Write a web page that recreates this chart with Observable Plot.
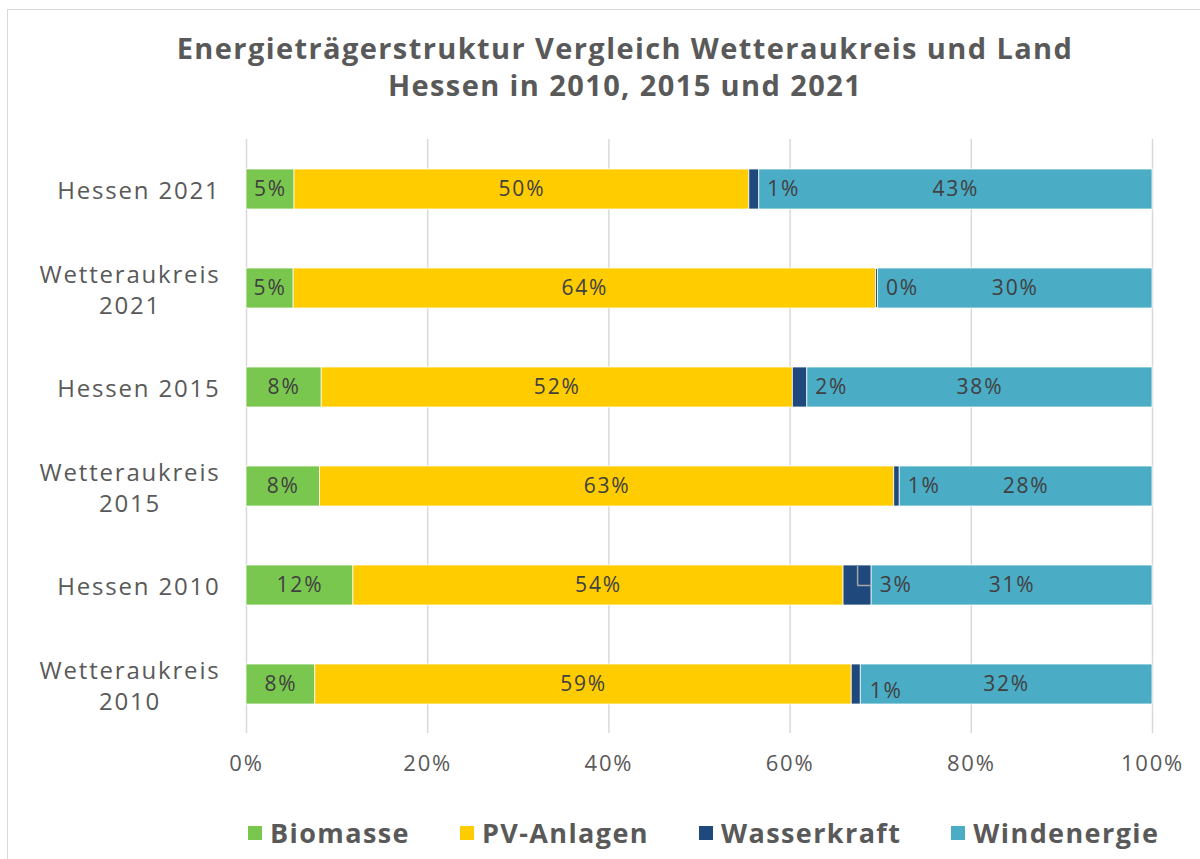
<!DOCTYPE html>
<html>
<head>
<meta charset="utf-8">
<script src="https://cdn.jsdelivr.net/npm/d3@7"></script>
<script src="https://cdn.jsdelivr.net/npm/@observablehq/plot@0.6"></script>
<style>
  html, body { margin: 0; padding: 0; background: #fff; overflow: hidden; width: 1200px; height: 859px; }
  #frame { position: absolute; left: 7px; top: 9px; width: 1300px; height: 1000px; border: 1px solid #d9d9d9; pointer-events: none; }
  #title { width: 1200px; height: 130px; box-sizing: border-box; padding: 29px 0 0 50px; text-align: center;
           font-family: "Open Sans", sans-serif; font-weight: 700; font-size: 29px; letter-spacing: 1.4px; line-height: 37px; color: #595959; }
  #chart { position: relative; }
  #chart svg text { letter-spacing: 1.8px; }
  #legend { display: flex; gap: 50px; margin-left: 248px; margin-top: 14px; align-items: center;
            font-family: "Open Sans", sans-serif; font-weight: 700; font-size: 27px; letter-spacing: 1.4px; color: #595959; }
  .item { display: flex; align-items: center; gap: 8px; }
  .sw { width: 14px; height: 14px; display: inline-block; }
</style>
</head>
<body>
<div id="frame"></div>
<div id="title">Energieträgerstruktur Vergleich Wetteraukreis und Land<br>Hessen in 2010, 2015 und 2021</div>
<div id="chart"></div>
<div id="legend"></div>
<script>
const categories = ["Hessen 2021", "Wetteraukreis\n2021", "Hessen 2015", "Wetteraukreis\n2015", "Hessen 2010", "Wetteraukreis\n2010"];
const sources = ["Biomasse", "PV-Anlagen", "Wasserkraft", "Windenergie"];
const colors = ["#7AC74F", "#FFCC00", "#1F497D", "#4BACC6"];
const biomasse = [5.3, 5.2, 8.3, 8.1, 11.8, 7.6];
const pv = [50.2, 64.3, 52.0, 63.4, 54.1, 59.2];
const wasser = [1.1, 0.2, 1.6, 0.6, 3.1, 1.0];
const wind = [43.4, 30.3, 38.1, 27.9, 31.0, 32.2];
const xTicks = [0, 20, 40, 60, 80, 100];

const series = [biomasse, pv, wasser, wind];
const table = [];
categories.forEach((cat, i) => {
  sources.forEach((src, j) => table.push({cat, source: src, value: series[j][i]}));
});

const leaderIdx = 4; // Hessen 2010 small segment with leader line
const leader = [{
  cat: categories[leaderIdx],
  xm: biomasse[leaderIdx] + pv[leaderIdx] + wasser[leaderIdx] / 2,
  xe: biomasse[leaderIdx] + pv[leaderIdx] + wasser[leaderIdx]
}];
const lowIdx = 5; // label placed slightly below

const fmt = v => Math.round(v) + "%";
const stackOpts = {x: "value", y: "cat", z: "source", order: null};

const plot = Plot.plot({
  width: 1200,
  height: 670,
  marginLeft: 246,
  marginRight: 48,
  marginTop: 9,
  marginBottom: 67,
  style: {fontFamily: "'Open Sans', sans-serif", fontSize: "22px", color: "#595959", background: "transparent"},
  x: {domain: [0, 100], ticks: xTicks, tickFormat: d => d + "%"},
  y: {domain: categories, paddingInner: 0.6, paddingOuter: 0.3},
  color: {domain: sources, range: colors},
  marks: [
    Plot.gridX(xTicks, {stroke: "#d9d9d9", strokeOpacity: 1, strokeWidth: 1.5}),
    Plot.barX(table, Plot.stackX({...stackOpts, fill: "source", stroke: "white", strokeWidth: 0.75})),
    Plot.text(table, Plot.stackX({...stackOpts,
      text: d => d.source === "Wasserkraft" ? null : fmt(d.value),
      fill: "#404040", fontSize: 21})),
    Plot.text(table, Plot.stackX2({...stackOpts,
      text: d => (d.source === "Wasserkraft" && d.cat !== categories[lowIdx]) ? fmt(d.value) : null,
      fill: "#404040", fontSize: 21, textAnchor: "start", dx: 8})),
    Plot.text(table, Plot.stackX2({...stackOpts,
      text: d => (d.source === "Wasserkraft" && d.cat === categories[lowIdx]) ? fmt(d.value) : null,
      fill: "#404040", fontSize: 21, textAnchor: "start", dx: 9, dy: 7})),
    Plot.tickX(leader, {x: "xm", y: "cat", stroke: "#a6a6a6", strokeWidth: 1.5, insetTop: 1, insetBottom: 20}),
    Plot.ruleY(leader, {y: "cat", x1: "xm", x2: "xe", stroke: "#a6a6a6", strokeWidth: 1.5}),
    Plot.axisX({ticks: xTicks, tickFormat: d => d + "%", tickSize: 0, tickPadding: 22, fontSize: 22, fill: "#595959", label: null}),
    Plot.axisY({tickSize: 0, tickPadding: 26, fontSize: 24, fill: "#595959", lineHeight: 1.3, label: null})
  ]
});

document.getElementById("chart").appendChild(plot);

// center-align multi-line category labels (as in the original)
plot.querySelectorAll('g[aria-label="y-axis tick label"] text').forEach(t => {
  if (t.querySelectorAll("tspan").length > 1) {
    const w = t.getBBox().width;
    t.setAttribute("text-anchor", "middle");
    t.setAttribute("transform", (t.getAttribute("transform") || "") + ` translate(${-w / 2},0)`);
  }
});

const legend = document.getElementById("legend");
sources.forEach((s, i) => {
  const it = document.createElement("div");
  it.className = "item";
  it.innerHTML = `<span class="sw" style="background:${colors[i]}"></span><span>${s}</span>`;
  legend.appendChild(it);
});
</script>
</body>
</html>
